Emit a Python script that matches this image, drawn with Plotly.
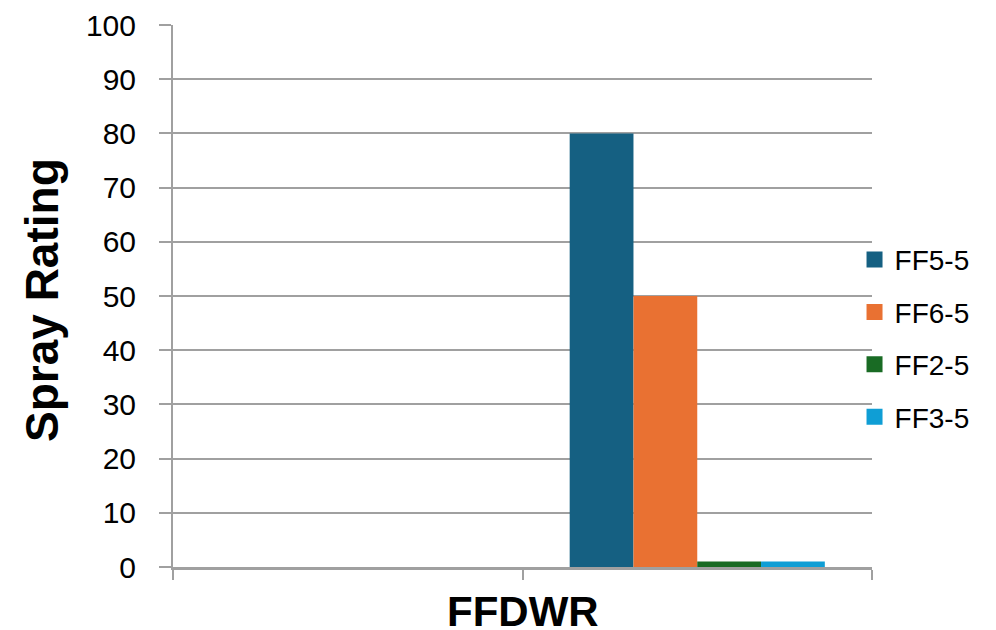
import plotly.graph_objects as go

# Chart data
categories = ["Blank", "FFDWR"]
series_names = ["FF5-5", "FF6-5", "FF2-5", "FF3-5"]
series_values = {
    "FF5-5": [None, 80],
    "FF6-5": [None, 50],
    "FF2-5": [None, 1],
    "FF3-5": [None, 1],
}
series_colors = {
    "FF5-5": "#156082",
    "FF6-5": "#E97132",
    "FF2-5": "#196B24",
    "FF3-5": "#0F9ED5",
}
y_ticks = list(range(0, 101, 10))

GRID = "#A0A0A0"
FONT = "Liberation Sans, Arial, sans-serif"

fig = go.Figure()
for name in series_names:
    fig.add_trace(go.Bar(
        x=categories,
        y=series_values[name],
        name=name,
        legendgroup=name,
        showlegend=False,
        marker=dict(color=series_colors[name], line=dict(width=0)),
    ))
    # legend key with a larger square swatch
    fig.add_trace(go.Scatter(
        x=[None], y=[None],
        mode="markers",
        name=name,
        legendgroup=name,
        showlegend=True,
        marker=dict(symbol="square", size=18, color=series_colors[name]),
    ))

fig.update_layout(
    width=996,
    height=630,
    margin=dict(l=173, r=124, t=25, b=63, autoexpand=False),
    paper_bgcolor="white",
    plot_bgcolor="white",
    barmode="group",
    bargap=0.27,
    bargroupgap=0,
    font=dict(family=FONT, color="black"),
    showlegend=True,
    legend=dict(
        x=0.975, xanchor="left",
        y=0.422, yanchor="middle",
        font=dict(size=28, family=FONT, color="black"),
        tracegroupgap=13,
        bgcolor="rgba(0,0,0,0)",
    ),
    xaxis=dict(
        type="category",
        categoryorder="array",
        categoryarray=categories,
        range=[-0.5, 1.5],
        showticklabels=False,
        tickson="boundaries",
        ticks="outside",
        ticklen=10,
        tickwidth=2,
        tickcolor=GRID,
        showline=True,
        linecolor=GRID,
        linewidth=3,
        showgrid=False,
        zeroline=False,
        automargin=False,
    ),
    yaxis=dict(
        range=[0, 100],
        tickvals=y_ticks,
        tickfont=dict(size=30, family=FONT, color="black"),
        ticks="outside",
        ticklen=12,
        tickwidth=2,
        tickcolor=GRID,
        ticklabelstandoff=17,
        showline=True,
        linecolor=GRID,
        linewidth=2,
        showgrid=True,
        gridcolor=GRID,
        gridwidth=2,
        zeroline=False,
        automargin=False,
    ),
    annotations=[
        dict(
            text="<b>Spray Rating</b>",
            xref="paper", yref="paper",
            x=0, y=0.5,
            xanchor="center", yanchor="middle",
            xshift=-131,
            yshift=-4,
            textangle=-90,
            showarrow=False,
            font=dict(size=46, family=FONT, color="black"),
        ),
        dict(
            text="<b>FFDWR</b>",
            xref="paper", yref="paper",
            x=0.5, y=0,
            xanchor="center", yanchor="middle",
            yshift=-44,
            showarrow=False,
            font=dict(size=42, family=FONT, color="black"),
        ),
    ],
)

fig.write_html("out.html")
